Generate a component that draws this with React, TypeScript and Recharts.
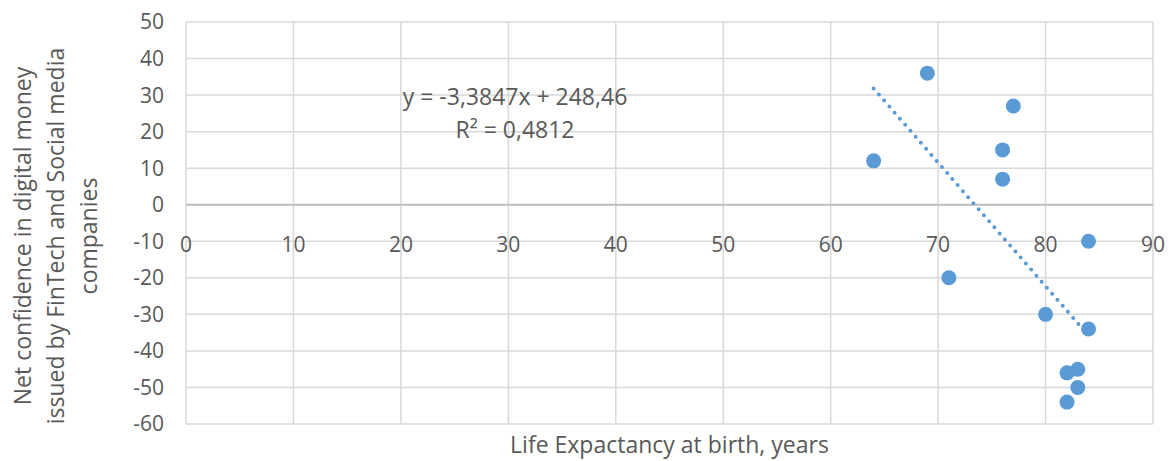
import { CartesianGrid, ReferenceLine, Scatter, ScatterChart, XAxis, YAxis } from "recharts";

const lifeExpectancy = [64, 69, 77, 76, 76, 71, 84, 80, 84, 83, 82, 83, 82];
const netConfidence = [12, 36, 27, 15, 7, -20, -10, -30, -34, -45, -46, -50, -54];
const trendX = [64, 84];
const trendY = [31.8, -35.8];
const xTicks = [0, 10, 20, 30, 40, 50, 60, 70, 80, 90];
const yTicks = [-60, -50, -40, -30, -20, -10, 0, 10, 20, 30, 40, 50];
const yTitle = ["Net confidence in digital money", "issued by FinTech and Social media", "companies"];

const W = 1176;
const H = 461;
const TOP = 22;
const BOTTOM = 37;
const PLOT_H = H - TOP - BOTTOM;
const FONT = "'Open Sans', Lato, sans-serif";
const FS = 21;
const TITLE_FS = 23;
const GREY = "#595959";
const BLUE = "#5b9bd5";

const points = lifeExpectancy.map((x, i) => ({ x, y: netConfidence[i] }));
const trend = trendX.map((x, i) => ({ x, y: trendY[i] }));

// x labels sit along the y=0 axis, not at the bottom of the plot
const zeroShift = (PLOT_H * (0 - yTicks[0])) / (yTicks[yTicks.length - 1] - yTicks[0]);

function XTick(props: any) {
  const { x, y, payload } = props;
  return (
    <text x={x} y={y - zeroShift + 39} textAnchor="middle" fill={GREY} fontSize={FS} fontFamily={FONT}>
      {payload.value}
    </text>
  );
}

function YTitle() {
  const cy = 236;
  return (
    <g>
      {yTitle.map((t, i) => (
        <text
          key={t}
          x={0}
          y={0}
          transform={`translate(${31 + i * 33}, ${cy}) rotate(-90)`}
          textAnchor="middle"
          fill={GREY}
          fontSize={TITLE_FS}
          fontFamily={FONT}
        >
          {t}
        </text>
      ))}
    </g>
  );
}

function XTitle(props: any) {
  const { viewBox } = props;
  return (
    <text x={viewBox.x + viewBox.width / 2} y={H - 8} textAnchor="middle" fill={GREY} fontSize={TITLE_FS} fontFamily={FONT}>
      Life Expactancy at birth, years
    </text>
  );
}

export default function App() {
  return (
    <div style={{ position: "absolute", left: 0, top: 0, width: W, height: H, background: "#fff" }}>
      <ScatterChart width={W} height={H} margin={{ top: TOP, right: 23, bottom: 0, left: 0 }}>
        <CartesianGrid stroke="#d9d9d9" strokeWidth={1.5} />
        <XAxis
          type="number"
          dataKey="x"
          domain={[0, 90]}
          ticks={xTicks}
          axisLine={false}
          tickLine={false}
          height={BOTTOM}
          tick={<XTick />}
          interval={0}
          label={<XTitle />}
        />
        <YAxis
          type="number"
          dataKey="y"
          domain={[-60, 50]}
          ticks={yTicks}
          axisLine={false}
          tickLine={false}
          tickSize={0}
          tickMargin={22}
          width={186}
          interval={0}
          tick={{ fill: GREY, fontSize: FS, fontFamily: FONT }}
          label={<YTitle />}
        />
        <ReferenceLine y={0} stroke="#bfbfbf" strokeWidth={2} />
        <Scatter
          data={trend}
          isAnimationActive={false}
          line={{ stroke: BLUE, strokeWidth: 4, strokeDasharray: "0 8", strokeLinecap: "round" }}
          shape={() => <g />}
        />
        <Scatter
          data={points}
          isAnimationActive={false}
          fill={BLUE}
          shape={(p: any) => <circle cx={p.cx} cy={p.cy} r={7.5} fill={BLUE} />}
        />
      </ScatterChart>
      <div
        style={{
          position: "absolute",
          left: 365,
          top: 80,
          width: 300,
          textAlign: "center",
          color: GREY,
          fontFamily: FONT,
          fontSize: TITLE_FS,
          lineHeight: "33px",
          whiteSpace: "nowrap",
        }}
      >
        <div>y = -3,3847x + 248,46</div>
        <div>R² = 0,4812</div>
      </div>
    </div>
  );
}
